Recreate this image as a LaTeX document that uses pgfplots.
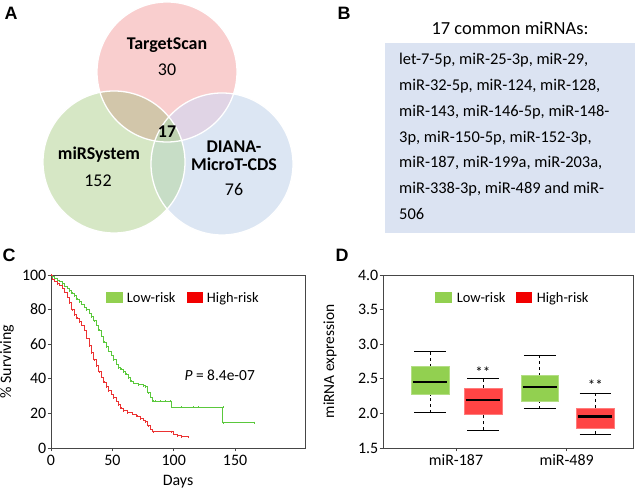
\documentclass[border=0pt]{standalone}
\usepackage{fontspec}
\setmainfont{Carlito}
\newfontfamily\panelfont{Liberation Sans}
\usepackage{pgfplots}
\pgfplotsset{compat=1.18}
\usepgfplotslibrary{statistics}
\definecolor{vpink}{RGB}{249,206,206}
\definecolor{vgreen}{RGB}{214,231,197}
\definecolor{vblue}{RGB}{220,230,243}
\definecolor{vpg}{RGB}{210,198,170}
\definecolor{vpb}{RGB}{224,212,229}
\definecolor{vgb}{RGB}{199,221,198}
\definecolor{vall}{RGB}{190,209,176}
\definecolor{boxbg}{RGB}{219,227,242}
\definecolor{lowline}{RGB}{90,200,60}
\definecolor{highline}{RGB}{235,50,50}
\definecolor{boxgreen}{RGB}{146,208,80}
\definecolor{boxred}{RGB}{255,68,68}
\definecolor{axgray}{RGB}{70,70,70}
\newcommand{\fs}[1]{\fontsize{#1}{#1}\selectfont}
\begin{document}
\begin{tikzpicture}[x=1bp,y=1bp]
\path[use as bounding box] (0,0) rectangle (639,492);
% ---------------- Panel A: Venn
\fill[vpink] (167,420) circle[radius=70bp];
\fill[vgreen] (114,330) circle[radius=71bp];
\fill[vblue] (222,328) circle[radius=71bp];
\begin{scope}\clip (167,420) circle[radius=70bp]; \fill[vpg] (114,330) circle[radius=71bp];\end{scope}
\begin{scope}\clip (167,420) circle[radius=70bp]; \fill[vpb] (222,328) circle[radius=71bp];\end{scope}
\begin{scope}\clip (114,330) circle[radius=71bp]; \fill[vgb] (222,328) circle[radius=71bp];\end{scope}
\begin{scope}\clip (167,420) circle[radius=70bp]; \clip (114,330) circle[radius=71bp]; \fill[vall] (222,328) circle[radius=71bp];\end{scope}
\draw[white, line width=1.3bp] (167,420) circle[radius=70bp];
\draw[white, line width=1.3bp] (114,330) circle[radius=71bp];
\draw[white, line width=1.3bp] (222,328) circle[radius=71bp];
\begin{scope}[every node/.style={inner sep=0pt, anchor=base}]
\node[font=\bfseries\fs{18}] at (167,442) {TargetScan};
\node[font=\fs{18}] at (167,416) {30};
\node[font=\bfseries\fs{18}] at (167,354) {17};
\node[font=\bfseries\fs{18}] at (99,332) {miRSystem};
\node[font=\fs{18}] at (98,305) {152};
\node[font=\bfseries\fs{18}] at (234,339) {DIANA-};
\node[font=\bfseries\fs{18}] at (234,321) {MicroT-CDS};
\node[font=\fs{18}] at (234,296) {76};
% panel letters
\node[font=\panelfont\bfseries\fs{18}] at (11,472) {A};
\node[font=\panelfont\bfseries\fs{18}] at (344,472) {B};
\node[font=\panelfont\bfseries\fs{18}] at (9,230) {C};
\node[font=\panelfont\bfseries\fs{18}] at (342,230) {D};
\end{scope}
% ---------------- Panel B: text box
\node[font=\fs{18.5}, inner sep=0pt, anchor=base] at (510,457) {17 common miRNAs:};
\fill[boxbg] (385,259) rectangle (635,449);
\begin{scope}[every node/.style={inner sep=0pt, anchor=mid west, font=\fs{16.5}}]
\node at (399,430) {let-7-5p, miR-25-3p, miR-29,};
\node at (399,404) {miR-32-5p, miR-124, miR-128,};
\node at (399,378) {miR-143, miR-146-5p, miR-148-};
\node at (399,352) {3p, miR-150-5p, miR-152-3p,};
\node at (399,327) {miR-187, miR-199a, miR-203a,};
\node at (399,301) {miR-338-3p, miR-489 and miR-};
\node at (399,275) {506};
\end{scope}
% ---------------- Panel C: survival
\begin{axis}[
  at={(51bp,44bp)}, anchor=south west, scale only axis,
  width=254bp, height=173bp,
  xmin=0, xmax=207, ymin=0, ymax=100,
  xtick={0,50,100,150}, ytick={0,20,40,60,80,100},
  tick align=outside, tick pos=left, major tick length=3.5bp,
  axis line style={axgray, line width=0.8bp}, every tick/.style={axgray, line width=0.8bp},
  /pgf/number format/assume math mode=true,
  ticklabel style={font=\fs{16}},
  yticklabel style={inner sep=1bp},
  xlabel={Days}, ylabel={\% Surviving},
  label style={font=\fs{16}},
  xlabel style={at={(axis description cs:0.5,-0.197)}, anchor=center},
  ylabel style={at={(axis description cs:-0.173,0.5)}, anchor=center},
  legend style={draw=none, fill=none, at={(0.52,0.867)}, anchor=center, font=\fs{14.5},
    /tikz/column 1/.style={column sep=3bp}, /tikz/column 2/.style={column sep=9bp},
    /tikz/column 3/.style={column sep=3bp}},
  legend columns=2,
]
\addplot[const plot, lowline, line width=0.9bp, mark=|, mark size=1bp, mark options={solid, line width=0.5bp}, forget plot] coordinates {
(0,100) (1,99) (3,98) (5,97) (7,96.5) (9,95) (11,93.5) (13,92.5) (15,91) (17,89.5)
(19,88) (21,86) (23,84.5) (25,83) (27,81.5) (29,80) (31,78) (33,76) (35,73.5) (37,71)
(39,68) (41,64.5) (43,61) (45,58.5) (47,56) (49,53.5) (51,51) (53,48.5) (55,46.5) (57,45.5)
(59,44) (61,42.5) (63,40.5) (65,38.5) (67,37.5) (71,36.5) (75,36) (77,35.5) (79,32) (81,29.5)
(83,27) (85,27) (89,27) (93,27) (97,27) (98,23.6) (106.5,23.6) (116,23.6) (120,23.6) (140,23.6) (140,14.7) (166,14.7)
};
\addplot[const plot, highline, line width=0.9bp, mark=|, mark size=1bp, mark options={solid, line width=0.5bp}, forget plot] coordinates {
(0,100) (1,97.5) (3,96.5) (5,95) (7,94) (9,92.5) (11,90) (13,87) (15,84) (17,80)
(19,77) (21,75) (23,73) (25,71) (27,68) (29,63.5) (31,59) (33,55) (35,51) (37,47.5)
(39,44) (41,41) (43,38) (45,35.5) (47,33) (49,31) (51,29) (53,27) (55,25) (57,23)
(59,21.5) (62,20.5) (66,19.5) (70,18.5) (73,17) (75,16) (77,15.2) (79,13) (81,11) (83,9.5)
(98,9.5) (100,8) (103,7) (106,6.5) (112,6.2)
};
\addlegendimage{legend image code/.code={\fill[boxgreen] (0bp,-4.5bp) rectangle (16bp,5.5bp);}}
\addlegendentry{Low-risk}
\addlegendimage{legend image code/.code={\fill[red!95!black] (0bp,-4.5bp) rectangle (15bp,5.5bp);}}
\addlegendentry{High-risk}
\node[font=\fs{15.5}, anchor=center] at (axis cs:137.5,41.8) {\textit{P} = 8.4e-07};
\end{axis}
% ---------------- Panel D: boxplots
\begin{axis}[
  at={(383bp,44bp)}, anchor=south west, scale only axis,
  width=250bp, height=173bp,
  xmin=0.34, xmax=2.6, ymin=1.5, ymax=4.0,
  xtick={1,2}, xticklabels={miR-187,miR-489},
  ytick={1.5,2,2.5,3,3.5,4},
  /pgf/number format/fixed, /pgf/number format/fixed zerofill, /pgf/number format/precision=1,
  tick align=outside, tick pos=left, major tick length=3.5bp,
  axis line style={axgray, line width=0.8bp}, every tick/.style={axgray, line width=0.8bp},
  /pgf/number format/assume math mode=true,
  ticklabel style={font=\fs{16}},
  yticklabel style={inner sep=1bp},
  ylabel={miRNA expression},
  label style={font=\fs{15.5}},
  ylabel style={at={(axis description cs:-0.212,0.5)}, anchor=center},
  legend style={draw=none, fill=none, at={(0.52,0.867)}, anchor=center, font=\fs{14.5},
    /tikz/column 1/.style={column sep=3bp}, /tikz/column 2/.style={column sep=9bp},
    /tikz/column 3/.style={column sep=3bp}},
  legend columns=2,
  boxplot/draw direction=y,
  boxplot/draw/median/.code={\draw[black, line width=2.4bp] (boxplot box cs:\pgfplotsboxplotvalue{median},0.05) -- (boxplot box cs:\pgfplotsboxplotvalue{median},0.95);},
  boxplot/draw/lower whisker/.code={\draw[black, line width=0.8bp, dash pattern=on 3bp off 3bp] (boxplot box cs:\pgfplotsboxplotvalue{lower whisker},0.5) -- (boxplot box cs:\pgfplotsboxplotvalue{lower quartile},0.5);
    \draw[black, line width=0.8bp, solid] (boxplot box cs:\pgfplotsboxplotvalue{lower whisker},0.08) -- (boxplot box cs:\pgfplotsboxplotvalue{lower whisker},0.92);},
  boxplot/draw/upper whisker/.code={\draw[black, line width=0.8bp, dash pattern=on 3bp off 3bp] (boxplot box cs:\pgfplotsboxplotvalue{upper whisker},0.5) -- (boxplot box cs:\pgfplotsboxplotvalue{upper quartile},0.5);
    \draw[black, line width=0.8bp, solid] (boxplot box cs:\pgfplotsboxplotvalue{upper whisker},0.08) -- (boxplot box cs:\pgfplotsboxplotvalue{upper whisker},0.92);},
]
\addplot[boxplot prepared={draw position=0.764, lower whisker=2.01, lower quartile=2.272, median=2.456, upper quartile=2.687, upper whisker=2.89, box extend=0.342},
  boxplot/every box/.style={fill=boxgreen, draw=boxgreen!70!white}, forget plot] coordinates {};
\addplot[boxplot prepared={draw position=1.243, lower whisker=1.756, lower quartile=1.99, median=2.195, upper quartile=2.37, upper whisker=2.50, box extend=0.342},
  boxplot/every box/.style={fill=boxred, draw=boxred!70!white}, forget plot] coordinates {};
\addplot[boxplot prepared={draw position=1.757, lower whisker=2.065, lower quartile=2.18, median=2.383, upper quartile=2.557, upper whisker=2.837, box extend=0.342},
  boxplot/every box/.style={fill=boxgreen, draw=boxgreen!70!white}, forget plot] coordinates {};
\addplot[boxplot prepared={draw position=2.26, lower whisker=1.70, lower quartile=1.79, median=1.958, upper quartile=2.079, upper whisker=2.296, box extend=0.342},
  boxplot/every box/.style={fill=boxred, draw=boxred!70!white}, forget plot] coordinates {};
\addlegendimage{legend image code/.code={\fill[boxgreen] (0bp,-4.5bp) rectangle (16bp,5.5bp);}}
\addlegendentry{Low-risk}
\addlegendimage{legend image code/.code={\fill[red!95!black] (0bp,-4.5bp) rectangle (15bp,5.5bp);}}
\addlegendentry{High-risk}
\node[font=\fs{15}, anchor=base, inner sep=0pt] at (axis cs:1.243,2.52) {**};
\node[font=\fs{15}, anchor=base, inner sep=0pt] at (axis cs:2.26,2.335) {**};
\end{axis}
\end{tikzpicture}
\end{document}
